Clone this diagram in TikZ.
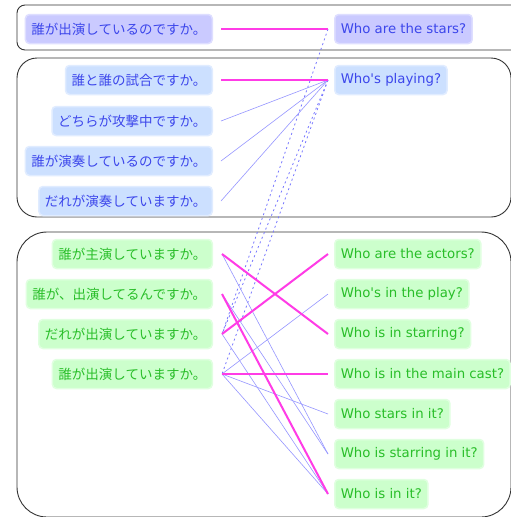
\documentclass[tikz,border=0pt]{standalone}
\usepackage{fontspec}
\setmainfont{Noto Sans CJK JP}
\newfontfamily\latinfont{DejaVu Sans}
\definecolor{lavfill}{RGB}{202,202,255}
\definecolor{lavedge}{RGB}{222,222,255}
\definecolor{bluefill}{RGB}{204,224,255}
\definecolor{blueedge}{RGB}{224,236,255}
\definecolor{bluetext}{RGB}{60,70,235}
\definecolor{greenfill}{RGB}{204,255,204}
\definecolor{greenedge}{RGB}{224,255,224}
\definecolor{greentext}{RGB}{40,190,40}
\definecolor{pinkline}{RGB}{255,60,230}
\definecolor{thinline}{RGB}{150,150,255}
\definecolor{dashline}{RGB}{120,120,255}
\begin{document}
\begin{tikzpicture}[x=1pt,y=-1pt,
  lab/.style={rounded corners=4pt, line width=1.5pt, minimum height=29pt,
    inner xsep=6pt, inner ysep=0pt},
  jleft/.style={lab, anchor=east, font=\fontsize{13.5}{15}\selectfont},
  eright/.style={lab, anchor=west, font=\latinfont\fontsize{13.3}{15}\selectfont},
  lav/.style={fill=lavfill, draw=lavedge, text=bluetext},
  lblue/.style={fill=bluefill, draw=blueedge, text=bluetext},
  lgreen/.style={fill=greenfill, draw=greenedge, text=greentext},
  group/.style={draw=black!80, line width=0.9pt},
  strong/.style={draw=pinkline, line width=2pt},
  weak/.style={draw=thinline, line width=0.6pt},
  dotted link/.style={draw=dashline, line width=0.8pt, dash pattern=on 2pt off 3pt}]
\useasboundingbox (0,0) rectangle (511,517);
\clip (0,0) rectangle (511,517);
\fill[white] (0,0) rectangle (511,517);
% group boxes
\draw[group, rounded corners=8pt] (17,5) rectangle (530,50);
\draw[group, rounded corners=20pt] (17,58) rectangle (511,217);
\draw[group, rounded corners=30pt] (17,232) rectangle (511,517);
% left nodes
\node[jleft, lav] (j1) at (213,29) {誰が出演しているのですか。};
\node[jleft, lblue] (j2) at (213,80) {誰と誰の試合ですか。};
\node[jleft, lblue] (j3) at (213,121) {どちらが攻撃中ですか。};
\node[jleft, lblue] (j4) at (213,161) {誰が演奏しているのですか。};
\node[jleft, lblue] (j5) at (213,201) {だれが演奏していますか。};
\node[jleft, lgreen] (j6) at (213,254) {誰が主演していますか。};
\node[jleft, lgreen] (j7) at (213,294) {誰が、出演してるんですか。};
\node[jleft, lgreen] (j8) at (213,334) {だれが出演していますか。};
\node[jleft, lgreen] (j9) at (213,374) {誰が出演していますか。};
% right nodes
\node[eright, lav] (e1) at (334,29) {Who are the stars?};
\node[eright, lblue] (e2) at (334,80) {Who's playing?};
\node[eright, lgreen] (e3) at (334,254) {Who are the actors?};
\node[eright, lgreen] (e4) at (334,294) {Who's in the play?};
\node[eright, lgreen] (e5) at (334,334) {Who is in starring?};
\node[eright, lgreen] (e6) at (334,374) {Who is in the main cast?};
\node[eright, lgreen] (e7) at (334,414) {Who stars in it?};
\node[eright, lgreen] (e8) at (334,454) {Who is starring in it?};
\node[eright, lgreen] (e9) at (334,494) {Who is in it?};
% dashed links
\path[dotted link] ([xshift=-6pt]e1.west) -- ([xshift=9pt]j8.east);
\path[dotted link] ([xshift=-6pt]e2.west) -- ([xshift=9pt]j8.east);
\path[dotted link] ([xshift=-6pt]e2.west) -- ([xshift=9pt]j9.east);
% thin links
\path[weak] ([xshift=8pt]j3.east) -- ([xshift=-6pt]e2.west);
\path[weak] ([xshift=8pt]j4.east) -- ([xshift=-6pt]e2.west);
\path[weak] ([xshift=8pt]j5.east) -- ([xshift=-6pt]e2.west);
\path[weak] ([xshift=9pt]j6.east) -- ([xshift=-6pt]e8.west);
\path[weak] ([xshift=9pt]j7.east) -- ([xshift=-6pt]e8.west);
\path[weak] ([xshift=9pt]j8.east) -- ([xshift=-6pt]e9.west);
\path[weak] ([xshift=9pt]j9.east) -- ([xshift=-6pt]e4.west);
\path[weak] ([xshift=9pt]j9.east) -- ([xshift=-6pt]e7.west);
\path[weak] ([xshift=9pt]j9.east) -- ([xshift=-6pt]e9.west);
% strong links
\path[strong] ([xshift=8pt]j1.east) -- ([xshift=-6pt]e1.west);
\path[strong] ([xshift=8pt]j2.east) -- ([xshift=-6pt]e2.west);
\path[strong] ([xshift=9pt]j6.east) -- ([xshift=-6pt]e5.west);
\path[strong] ([xshift=9pt]j8.east) -- ([xshift=-6pt]e3.west);
\path[strong] ([xshift=9pt]j7.east) -- ([xshift=-6pt]e9.west);
\path[strong] ([xshift=9pt]j9.east) -- ([xshift=-6pt]e6.west);
\end{tikzpicture}
\end{document}
